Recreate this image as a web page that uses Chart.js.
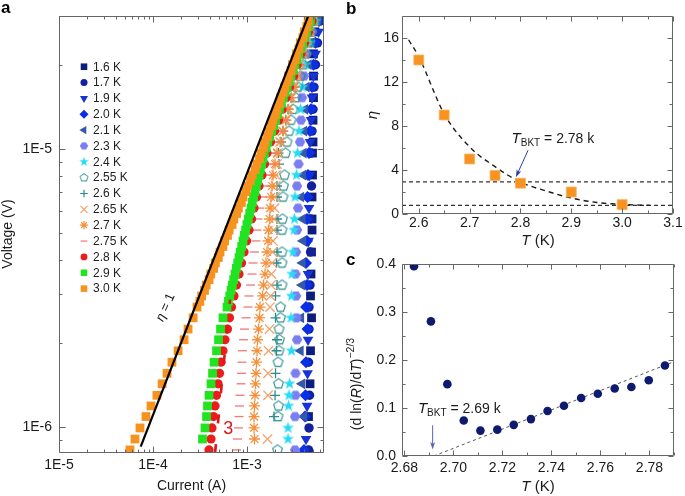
<!DOCTYPE html>
<html>
<head>
<meta charset="utf-8">
<script src="https://cdn.jsdelivr.net/npm/chart.js@4.4.1/dist/chart.umd.min.js"></script>
<style>
  html, body { margin: 0; padding: 0; background: #fff; }
  #wrap { position: relative; width: 685px; height: 496px; overflow: hidden; }
  canvas { position: absolute; }
</style>
</head>
<body>
<div id="wrap">
  <canvas id="chartA" width="340" height="496" style="left:0;top:0"></canvas>
  <canvas id="chartB" width="345" height="250" style="left:340px;top:0"></canvas>
  <canvas id="chartC" width="345" height="246" style="left:340px;top:250px"></canvas>
</div>
<script>
// ---------- panel a : I-V curves (log-log) ----------
const tempLabels = ['1.6 K', '1.7 K', '1.9 K', '2.0 K', '2.1 K', '2.3 K', '2.4 K', '2.55 K',
  '2.6 K', '2.65 K', '2.7 K', '2.75 K', '2.8 K', '2.9 K', '3.0 K'];

// voltage levels (V) shared by every curve, null current = no point at that level
const voltLevels = [8.27e-7, 9.05e-7, 9.92e-7, 1.09e-6, 1.19e-6, 1.30e-6, 1.43e-6, 1.56e-6, 1.71e-6, 1.88e-6,
  2.06e-6, 2.25e-6, 2.47e-6, 2.70e-6, 2.96e-6, 3.24e-6, 3.55e-6, 3.89e-6, 4.26e-6, 4.67e-6,
  5.11e-6, 5.60e-6, 6.13e-6, 6.72e-6, 7.36e-6, 8.06e-6, 8.83e-6, 9.67e-6, 1.06e-5, 1.16e-5,
  1.27e-5, 1.39e-5, 1.53e-5, 1.67e-5, 1.83e-5, 2.01e-5, 2.20e-5, 2.41e-5, 2.64e-5, 2.89e-5];
// extra levels where the 2.9 K and 3.0 K curves are densely sampled
const voltDense = [2.83e-6, 3.10e-6, 3.39e-6, 3.72e-6, 4.07e-6, 4.46e-6, 4.89e-6, 5.35e-6, 5.86e-6, 6.42e-6,
  7.03e-6, 7.70e-6, 8.44e-6, 9.24e-6, 1.012e-5, 1.109e-5, 1.214e-5, 1.329e-5, 1.455e-5, 1.60e-5,
  1.749e-5, 1.916e-5, 2.098e-5, 2.298e-5, 2.517e-5, 2.757e-5];

// currents (A)
const cur16 = [null, null, null, 4.511e-3, null, null, 4.680e-3, null, null, 4.737e-3, null, null, 4.855e-3, null, 4.737e-3, null, 4.796e-3, null, 4.855e-3, null,
  4.915e-3, 4.915e-3, null, 4.915e-3, null, 4.975e-3, null, 4.975e-3, 5.036e-3, null, 5.036e-3, null, 5.098e-3, null, 5.098e-3, null, 5.098e-3, 5.161e-3, 5.289e-3, 5.555e-3];
const cur17 = [4.511e-3, null, 4.566e-3, null, null, 4.623e-3, null, null, 4.511e-3, null, null, 4.566e-3, null, 4.566e-3, null, 4.680e-3, null, null, 4.737e-3, null,
  null, 4.737e-3, null, null, 4.855e-3, null, null, 4.796e-3, null, 4.915e-3, null, 5.036e-3, null, 5.161e-3, null, 5.354e-3, null, 5.623e-3, null, 6.052e-3];
const cur19 = [null, 4.243e-3, null, null, 4.348e-3, null, null, 4.402e-3, null, null, 4.456e-3, null, null, 4.456e-3, null, null, 4.456e-3, null, null, 4.511e-3,
  null, null, 4.566e-3, null, null, 4.623e-3, null, null, 4.680e-3, null, 4.796e-3, null, 4.915e-3, null, 5.098e-3, null, 5.354e-3, null, 5.762e-3, null];
const cur20 = [4.040e-3, null, null, 4.140e-3, null, 4.191e-3, null, null, 4.243e-3, null, null, 4.402e-3, null, 4.243e-3, null, 4.348e-3, null, 4.243e-3, null, 4.348e-3,
  null, 4.348e-3, null, 4.402e-3, null, 4.456e-3, null, 4.566e-3, null, 4.680e-3, null, 4.796e-3, null, 4.915e-3, null, 5.098e-3, null, 5.354e-3, null, 5.833e-3];
const cur21 = [null, null, null, 4.040e-3, null, null, 3.847e-3, null, null, 3.708e-3, null, null, 3.754e-3, null, null, 3.847e-3, null, 3.894e-3, null, 3.942e-3,
  null, 3.894e-3, null, 3.754e-3, null, 3.942e-3, null, 3.991e-3, null, 4.040e-3, null, 4.140e-3, null, 4.295e-3, null, 4.511e-3, null, 4.915e-3, null, 5.692e-3];
const cur23 = [3.241e-3, null, null, 3.241e-3, null, 3.281e-3, null, 3.281e-3, null, null, 3.404e-3, null, 3.362e-3, null, 3.321e-3, null, 3.281e-3, null, 3.321e-3, null,
  3.404e-3, null, 3.488e-3, null, 3.404e-3, null, 3.531e-3, null, 3.663e-3, null, 3.754e-3, null, 3.847e-3, null, 4.040e-3, null, 4.295e-3, null, 4.915e-3, null];
const cur24 = [null, 2.730e-3, 2.730e-3, null, 2.764e-3, 2.798e-3, 2.833e-3, null, null, 2.974e-3, null, null, 2.938e-3, null, 2.974e-3, null, 3.011e-3, null, 3.086e-3, null,
  3.162e-3, 3.201e-3, null, 3.241e-3, null, 3.362e-3, null, 3.446e-3, null, 3.575e-3, null, 3.708e-3, null, 3.894e-3, null, 4.191e-3, null, 4.680e-3, null, 5.420e-3];
const cur255 = [2.111e-3, null, null, 2.137e-3, 2.163e-3, null, 2.163e-3, null, 2.137e-3, 2.190e-3, 2.217e-3, 2.190e-3, 2.272e-3, 2.272e-3, null, 2.357e-3, null, 2.357e-3, 2.357e-3, null,
  2.357e-3, 2.386e-3, null, 2.415e-3, 2.445e-3, 2.506e-3, null, 2.568e-3, 2.664e-3, 2.798e-3, 2.938e-3, 3.086e-3, 3.281e-3, 3.488e-3, 3.708e-3, 3.942e-3, 4.191e-3, 4.511e-3, 4.855e-3, 5.289e-3];
const cur26 = [null, null, null, 1.938e-3, null, 1.986e-3, null, 2.010e-3, null, 2.060e-3, 2.085e-3, null, 2.010e-3, null, 2.010e-3, 2.085e-3, null, 2.060e-3, 2.085e-3, null,
  2.085e-3, 2.085e-3, null, 2.085e-3, 2.085e-3, null, 2.190e-3, 2.163e-3, 2.300e-3, 2.415e-3, 2.568e-3, 2.730e-3, 2.938e-3, 3.162e-3, 3.404e-3, 3.663e-3, 3.942e-3, 4.295e-3, 4.680e-3, 5.161e-3];
const cur265 = [null, 1.653e-3, null, null, null, 1.673e-3, null, 1.673e-3, null, 1.693e-3, null, 1.735e-3, null, 1.757e-3, 1.778e-3, 1.800e-3, 1.822e-3, 1.845e-3, 1.867e-3, 1.891e-3,
  1.914e-3, 1.938e-3, 1.962e-3, 1.986e-3, 2.010e-3, 2.035e-3, 2.085e-3, 2.137e-3, 2.245e-3, 2.386e-3, 2.537e-3, 2.697e-3, 2.903e-3, 3.125e-3, 3.362e-3, 3.619e-3, 3.894e-3, 4.243e-3, 4.623e-3, 5.036e-3];
const cur27 = [null, 1.202e-3, 1.187e-3, 1.187e-3, 1.202e-3, 1.216e-3, 1.231e-3, 1.246e-3, 1.262e-3, 1.277e-3, 1.293e-3, 1.325e-3, 1.358e-3, 1.375e-3, 1.462e-3, 1.498e-3, 1.554e-3, 1.592e-3, 1.632e-3, 1.672e-3,
  1.693e-3, 1.735e-3, 1.757e-3, 1.800e-3, 1.845e-3, 1.891e-3, 1.986e-3, 2.085e-3, 2.245e-3, 2.415e-3, 2.600e-3, 2.764e-3, 2.974e-3, 3.201e-3, 3.404e-3, 3.663e-3, 3.942e-3, 4.243e-3, 4.623e-3, 5.038e-3];
const cur275 = [7.73e-4, 7.92e-4, 8.12e-4, 8.22e-4, 8.32e-4, 8.42e-4, 8.63e-4, 8.74e-4, 8.85e-4, 8.96e-4, 9.18e-4, 9.41e-4, 9.76e-4, 1.025e-3, 1.050e-3, 1.090e-3, 1.130e-3, 1.158e-3, 1.202e-3, 1.246e-3,
  1.277e-3, 1.309e-3, 1.358e-3, 1.462e-3, 1.573e-3, 1.693e-3, 1.822e-3, 1.962e-3, 2.137e-3, 2.300e-3, 2.475e-3, 2.664e-3, 2.867e-3, 3.125e-3, 3.363e-3, 3.618e-3, 3.894e-3, 4.192e-3, 4.566e-3, 4.916e-3];
const cur28 = [3.94e-4, 4.14e-4, 4.24e-4, 4.40e-4, 4.57e-4, 4.74e-4, 4.92e-4, 5.10e-4, 5.29e-4, 5.55e-4, 5.83e-4, 6.20e-4, 6.51e-4, 6.84e-4, 7.27e-4, 7.73e-4, 8.22e-4, 8.74e-4, 9.29e-4, 9.88e-4,
  1.050e-3, 1.117e-3, 1.187e-3, 1.262e-3, 1.342e-3, 1.444e-3, 1.535e-3, 1.632e-3, 1.778e-3, 1.962e-3, 2.163e-3, 2.357e-3, 2.600e-3, 2.833e-3, 3.125e-3, 3.404e-3, 3.754e-3, 4.090e-3, 4.510e-3, 4.916e-3];
const cur29 = [null, 3.36e-4, 3.57e-4, 3.71e-4, 3.80e-4, 3.94e-4, 4.14e-4, 4.30e-4, 4.46e-4, 4.74e-4, 4.98e-4, 5.23e-4, 5.55e-4, 6.13e-4, 6.55e-4, 6.98e-4, 7.45e-4, 7.96e-4, 8.49e-4, 9.07e-4,
  9.66e-4, 1.032e-3, 1.103e-3, 1.175e-3, 1.256e-3, 1.342e-3, 1.430e-3, 1.528e-3, 1.665e-3, 1.832e-3, 2.010e-3, 2.212e-3, 2.434e-3, 2.671e-3, 2.938e-3, 3.233e-3, 3.548e-3, 3.904e-3, 4.295e-3, 4.714e-3];
const cur30 = [5.69e-5, 6.43e-5, 7.27e-5, 8.42e-5, 9.52e-5, 1.10e-4, 1.25e-4, 1.41e-4, 1.59e-4, 1.85e-4, 2.14e-4, 2.36e-4, 2.67e-4, 2.94e-4, 3.29e-4, 3.68e-4, 4.12e-4, 4.61e-4, 5.16e-4, 5.78e-4,
  6.46e-4, 7.24e-4, 8.10e-4, 9.07e-4, 1.015e-3, 1.136e-3, 1.272e-3, 1.409e-3, 1.550e-3, 1.710e-3, 1.882e-3, 2.070e-3, 2.278e-3, 2.512e-3, 2.764e-3, 3.041e-3, 3.354e-3, 3.690e-3, 4.06e-3, 4.47e-3];
// the dense upper part of 2.9 K and 3.0 K (at voltDense)
const cur29Dense = [6.34e-4, 6.76e-4, 7.21e-4, 7.70e-4, 8.22e-4, 8.78e-4, 9.36e-4, 9.98e-4, 1.067e-3, 1.138e-3,
  1.215e-3, 1.298e-3, 1.385e-3, 1.478e-3, 1.595e-3, 1.746e-3, 1.919e-3, 2.109e-3, 2.320e-3, 2.550e-3,
  2.801e-3, 3.082e-3, 3.387e-3, 3.722e-3, 4.095e-3, 4.50e-3];
const cur30Dense = [3.15e-4, 3.53e-4, 3.95e-4, 4.42e-4, 4.95e-4, 5.54e-4, 6.20e-4, 6.94e-4, 7.77e-4, 8.70e-4,
  9.73e-4, 1.090e-3, 1.220e-3, 1.359e-3, 1.500e-3, 1.652e-3, 1.821e-3, 2.003e-3, 2.204e-3, 2.427e-3,
  2.674e-3, 2.942e-3, 3.241e-3, 3.570e-3, 3.928e-3, 4.32e-3];

// guide lines eta = 1 and eta = 3
const etaOneI = [7.4e-5, 4.46e-3];
const etaOneV = [8.5e-7, 3.0e-5];
const etaThreeI = [4.57e-4, 6.59e-4];
const etaThreeV = [8.05e-7, 2.87e-6];

// axis ticks
const aTicksX = [1e-5, 2e-5, 3e-5, 4e-5, 5e-5, 6e-5, 7e-5, 8e-5, 9e-5, 1e-4, 2e-4, 3e-4, 4e-4, 5e-4, 6e-4, 7e-4, 8e-4, 9e-4,
  1e-3, 2e-3, 3e-3, 4e-3, 5e-3, 6e-3];
const aMajorX = [1e-5, 1e-4, 1e-3];
const aTicksY = [9e-7, 1e-6, 2e-6, 3e-6, 4e-6, 5e-6, 6e-6, 7e-6, 8e-6, 9e-6, 1e-5, 2e-5, 3e-5];
const aMajorY = [1e-6, 1e-5];

// ---------- panel b : eta vs T ----------
const bTemp = [2.6, 2.65, 2.7, 2.75, 2.8, 2.9, 3.0];
const bEta = [14.0, 9.0, 5.0, 3.5, 2.8, 2.0, 0.85];
const bFitTemp = [2.58, 2.6, 2.65, 2.7, 2.75, 2.8, 2.85, 2.9, 2.95, 3.0, 3.055];
const bFitEta = [15.84, 14.3, 9.1, 6.1, 4.3, 2.9, 2.1, 1.45, 1.05, 0.87, 0.78];
const bLevelTemp = [2.567, 3.1];
const bLevelHigh = [2.92, 2.92];
const bLevelLow = [0.78, 0.78];
const bTicksX = [2.6, 2.65, 2.7, 2.75, 2.8, 2.85, 2.9, 2.95, 3.0, 3.05, 3.1];
const bMajorX = [2.6, 2.7, 2.8, 2.9, 3.0, 3.1];
const bTicksY = [0, 2, 4, 6, 8, 10, 12, 14, 16, 18];
const bMajorY = [0, 4, 8, 12, 16];

// ---------- panel c : (d lnR/dT)^-2/3 vs T ----------
const cTemp = [2.6839, 2.6908, 2.6975, 2.7042, 2.7110, 2.7179, 2.7246, 2.7316, 2.7384, 2.7451, 2.7521, 2.7589, 2.7658, 2.7726, 2.7797, 2.7863];
const cVal = [0.396, 0.281, 0.150, 0.074, 0.053, 0.055, 0.065, 0.077, 0.094, 0.105, 0.121, 0.130, 0.141, 0.144, 0.158, 0.189];
const cFitTemp = [2.692, 2.790];
const cFitVal = [0, 0.197];
const cTicksX = [2.68, 2.69, 2.70, 2.71, 2.72, 2.73, 2.74, 2.75, 2.76, 2.77, 2.78, 2.79];
const cMajorX = [2.68, 2.70, 2.72, 2.74, 2.76, 2.78];
const cTicksY = [0, 0.05, 0.1, 0.15, 0.2, 0.25, 0.3, 0.35, 0.4];
const cMajorY = [0, 0.1, 0.2, 0.3, 0.4];

// ---------- helpers ----------
const FAMILY = '"Liberation Sans", Arial, sans-serif';
const font = (size, style) => (style ? style + ' ' : '') + size + 'px ' + FAMILY;
Chart.defaults.font.family = FAMILY;
Chart.defaults.font.size = 14;
Chart.defaults.color = '#1a1a1a';

function makeMarker(size, color, draw) {
  const c = document.createElement('canvas');
  c.width = size; c.height = size;
  const g = c.getContext('2d');
  g.translate(size / 2, size / 2);
  g.fillStyle = color; g.strokeStyle = color; g.lineWidth = 1.1;
  draw(g);
  return c;
}
function polyPath(g, n, r, r2, start) {
  const k = r2 ? n * 2 : n;
  g.beginPath();
  for (let i = 0; i < k; i++) {
    const rr = (r2 && i % 2) ? r2 : r;
    const a = start + i * Math.PI * 2 / k;
    g.lineTo(rr * Math.cos(a), rr * Math.sin(a));
  }
  g.closePath();
}
const starImg = makeMarker(13, '#27dbf5', g => { polyPath(g, 5, 6.2, 2.5, -Math.PI / 2); g.fill(); });
const pentImg = makeMarker(13, '#2a8c8c', g => { polyPath(g, 5, 5.1, 0, -Math.PI / 2); g.stroke(); });
const hexImg = makeMarker(12, '#7b7ef0', g => { polyPath(g, 6, 5.2, 0, 0); g.fill(); });

const markerA = [
  { shape: 'rect', color: '#0c1d7e', r: 6.2 },
  { shape: 'circle', color: '#13219c', r: 4.7 },
  { shape: 'triangle', rot: 180, color: '#1733d6', r: 6.2 },
  { shape: 'rectRot', color: '#0b2fe4', r: 6 },
  { shape: 'triangle', rot: -90, color: '#3658a8', r: 6.2 },
  { shape: hexImg, color: '#7b7ef0' },
  { shape: starImg, color: '#27dbf5' },
  { shape: pentImg, color: '#2a8c8c' },
  { shape: 'cross', color: '#2a8c8c', r: 5, line: true },
  { shape: 'crossRot', color: '#f4a068', r: 6.6, line: true },
  { shape: 'star', color: '#f5913c', r: 5.5, line: true },
  { shape: 'line', color: '#f07878', r: 4.5, line: true },
  { shape: 'circle', color: '#ec1c1c', r: 4.6 },
  { shape: 'rect', color: '#22e322', r: 6.2 },
  { shape: 'rect', color: '#f7921e', r: 6.2 }
];

function isMajor(v, majors) {
  return majors.some(m => Math.abs(m - v) <= Math.abs(m) * 1e-6 + 1e-12);
}
function axis(type, min, max, list, majors, fmt, pad, size, horizontal) {
  return {
    type: type, min: min, max: max, bounds: 'data',
    grid: { display: false, drawTicks: false },
    border: { display: false },
    afterBuildTicks: s => { s.ticks = list.map(v => ({ value: v, major: isMajor(v, majors) })); },
    afterFit: s => { if (horizontal) s.height = size; else s.width = size; },
    ticks: {
      autoSkip: false, maxRotation: 0, padding: pad, font: { size: 14 },
      callback: (v, i, ts) => (ts[i] && ts[i].major) ? fmt(v) : ''
    }
  };
}

function framePlugin(majorLen, minorLen) {
  return {
    id: 'frame',
    afterDraw(chart) {
      const { ctx, chartArea: a } = chart;
      const sx = chart.scales.x, sy = chart.scales.y;
      const L = Math.round(a.left) + 0.5, R = Math.round(a.right) - 0.5;
      const T = Math.round(a.top) + 0.5, B = Math.round(a.bottom) - 0.5;
      ctx.save();
      ctx.strokeStyle = '#666';
      ctx.lineWidth = 1;
      ctx.beginPath();
      ctx.rect(L, T, R - L, B - T);
      sx.ticks.forEach(t => {
        const p = Math.round(sx.getPixelForValue(t.value)) + 0.5;
        const len = t.major ? majorLen : minorLen;
        ctx.moveTo(p, B); ctx.lineTo(p, B - len);
        ctx.moveTo(p, T); ctx.lineTo(p, T + len);
      });
      sy.ticks.forEach(t => {
        const p = Math.round(sy.getPixelForValue(t.value)) + 0.5;
        const len = t.major ? majorLen : minorLen;
        ctx.moveTo(L, p); ctx.lineTo(L + len, p);
        ctx.moveTo(R, p); ctx.lineTo(R - len, p);
      });
      ctx.stroke();
      ctx.restore();
    }
  };
}

// draw a run of differently styled text pieces
function drawRuns(ctx, runs, x, y, rot, align, base) {
  ctx.save();
  ctx.translate(x, y);
  ctx.rotate(rot || 0);
  ctx.textAlign = 'left';
  ctx.textBaseline = 'alphabetic';
  let total = 0;
  runs.forEach(r => { ctx.font = r.f; r.w = ctx.measureText(r.t).width; total += r.w; });
  let cx = align === 'center' ? -total / 2 : 0;
  runs.forEach(r => { ctx.font = r.f; ctx.fillText(r.t, cx, (base || 0) + (r.dy || 0)); cx += r.w; });
  ctx.restore();
}
function arrow(ctx, x1, y1, x2, y2, color, head) {
  const a = Math.atan2(y2 - y1, x2 - x1);
  ctx.save();
  ctx.strokeStyle = color; ctx.fillStyle = color; ctx.lineWidth = 1;
  ctx.beginPath(); ctx.moveTo(x1, y1);
  ctx.lineTo(x2 - head * 0.7 * Math.cos(a), y2 - head * 0.7 * Math.sin(a)); ctx.stroke();
  ctx.beginPath(); ctx.moveTo(x2, y2);
  ctx.lineTo(x2 - head * Math.cos(a - 0.32), y2 - head * Math.sin(a - 0.32));
  ctx.lineTo(x2 - head * 0.7 * Math.cos(a), y2 - head * 0.7 * Math.sin(a));
  ctx.lineTo(x2 - head * Math.cos(a + 0.32), y2 - head * Math.sin(a + 0.32));
  ctx.closePath(); ctx.fill();
  ctx.restore();
}

const baseOptions = () => ({
  responsive: false, animation: false, events: [], devicePixelRatio: 1,
  plugins: { legend: { display: false }, tooltip: { enabled: false } }
});

// ---------- chart a ----------
const curA = [cur16, cur17, cur19, cur20, cur21, cur23, cur24, cur255, cur26, cur265, cur27, cur275, cur28, cur29, cur30];
const denseA = { 13: cur29Dense, 14: cur30Dense };
const aSeries = tempLabels.map((lab, i) => {
  const m = markerA[i];
  let pts = voltLevels.map((v, k) => ({ x: curA[i][k], y: v })).filter(p => p.x !== null);
  if (denseA[i]) pts = pts.concat(voltDense.map((v, k) => ({ x: denseA[i][k], y: v })));
  return {
    label: lab,
    data: pts,
    pointStyle: m.shape,
    pointRadius: m.r || 5,
    pointRotation: m.rot || 0,
    pointBackgroundColor: m.color,
    pointBorderColor: m.color,
    pointBorderWidth: m.line ? 1.3 : 0,
    showLine: false,
    order: 30 - i,
    clip: 0
  };
});
const etaOneLine = {
  label: 'eta = 1', data: etaOneI.map((v, k) => ({ x: v, y: etaOneV[k] })),
  showLine: true, pointRadius: 0, borderColor: '#000', borderWidth: 2.2, order: 1, clip: 0
};
const etaThreeLine = {
  label: 'eta = 3', data: etaThreeI.map((v, k) => ({ x: v, y: etaThreeV[k] })),
  showLine: true, pointRadius: 0, borderColor: '#e01515', borderWidth: 2.6, borderDash: [9, 21], order: 2, clip: 0
};

const annotA = {
  id: 'annotA',
  afterDraw(chart) {
    const { ctx } = chart;
    const sx = chart.scales.x, sy = chart.scales.y;
    // legend
    markerA.forEach((m, i) => {
      const yy = 66.7 + 15.85 * i;
      ctx.save();
      ctx.fillStyle = m.color; ctx.strokeStyle = m.color; ctx.lineWidth = 1.2;
      if (typeof m.shape !== 'string') {
        const w = m.shape.width * 0.8, h = m.shape.height * 0.8;
        ctx.drawImage(m.shape, 84 - w / 2, yy - h / 2, w, h);
      } else if (Chart.helpers && Chart.helpers.drawPoint) {
        Chart.helpers.drawPoint(ctx, { pointStyle: m.shape, radius: (m.r || 5) * 0.75, rotation: m.rot || 0, borderWidth: m.line ? 1.2 : 0 }, 84, yy);
      }
      ctx.restore();
      ctx.fillStyle = '#222';
      ctx.font = font(12);
      ctx.textAlign = 'left';
      ctx.textBaseline = 'middle';
      ctx.fillText(tempLabels[i], 93, yy + 0.5);
    });
    // eta = 1 label along the black line
    ctx.fillStyle = '#111';
    drawRuns(ctx, [{ t: 'η', f: font(13, 'italic') }, { t: ' = 1', f: font(13) }],
      sx.getPixelForValue(1.34e-4), sy.getPixelForValue(2.70e-6), -66 * Math.PI / 180, 'center', 4.5);
    // '3' label on the eta = 3 line
    ctx.fillStyle = '#e01515';
    ctx.font = font(18);
    ctx.textAlign = 'center'; ctx.textBaseline = 'middle';
    ctx.fillText('3', sx.getPixelForValue(6.3e-4), sy.getPixelForValue(9.8e-7));
    // titles
    ctx.fillStyle = '#1a1a1a';
    drawRuns(ctx, [{ t: 'Voltage (V)', f: font(14) }], 7, 234, -Math.PI / 2, 'center', 5);
    drawRuns(ctx, [{ t: 'Current (A)', f: font(14) }], 191.5, 485, 0, 'center', 5);
    ctx.fillStyle = '#000';
    drawRuns(ctx, [{ t: 'a', f: font(17, 'bold') }], 1, 0, 0, 'left', 13);
  }
};

const optA = baseOptions();
optA.layout = { padding: { left: 0, right: 16, top: 16, bottom: 0 } };
optA.scales = {
  x: axis('logarithmic', 1e-5, 6.59e-3, aTicksX, aMajorX, v => '1E' + Math.round(Math.log10(v)), 4, 43, true),
  y: axis('logarithmic', 8.06e-7, 3.01e-5, aTicksY, aMajorY, v => '1E' + Math.round(Math.log10(v)), 7, 59, false)
};
new Chart(document.getElementById('chartA'), {
  type: 'scatter',
  data: { datasets: aSeries.concat([etaOneLine, etaThreeLine]) },
  options: optA,
  plugins: [framePlugin(6, 3), annotA]
});

// ---------- chart b ----------
const annotB = {
  id: 'annotB',
  afterDraw(chart) {
    const { ctx } = chart;
    const sx = chart.scales.x, sy = chart.scales.y;
    ctx.fillStyle = '#1a1a1a';
    drawRuns(ctx, [
      { t: 'T', f: font(15, 'italic') },
      { t: 'BKT', f: font(10), dy: 3 },
      { t: ' = 2.78 k', f: font(14) }
    ], sx.getPixelForValue(2.7825), sy.getPixelForValue(6.45), 0, 'left', 0);
    arrow(ctx, sx.getPixelForValue(2.815), sy.getPixelForValue(5.8),
      sx.getPixelForValue(2.791), sy.getPixelForValue(3.35), '#2d3ea8', 8);
    drawRuns(ctx, [{ t: 'η', f: font(15, 'italic') }], 33, 115, -Math.PI / 2, 'center', 4);
    drawRuns(ctx, [{ t: 'T', f: font(15, 'italic') }, { t: ' (K)', f: font(15) }], 198, 240, 0, 'center', 5);
    ctx.fillStyle = '#000';
    drawRuns(ctx, [{ t: 'b', f: font(17, 'bold') }], 6, 0, 0, 'left', 14);
  }
};
const optB = baseOptions();
optB.layout = { padding: { left: 0, right: 12, top: 16, bottom: 0 } };
optB.scales = {
  x: axis('linear', 2.567, 3.1, bTicksX, bMajorX, v => v.toFixed(1), 1, 36, true),
  y: axis('linear', 0, 18, bTicksY, bMajorY, v => String(Math.round(v)), 3, 62, false)
};
new Chart(document.getElementById('chartB'), {
  type: 'scatter',
  data: {
    datasets: [
      {
        label: 'eta', data: bTemp.map((t, k) => ({ x: t, y: bEta[k] })),
        pointStyle: 'rect', pointRadius: 7, pointBackgroundColor: '#f7931e', pointBorderColor: '#f9b060',
        pointBorderWidth: 0.8, order: 0
      },
      {
        label: 'fit', data: bFitTemp.map((t, k) => ({ x: t, y: bFitEta[k] })),
        showLine: true, pointRadius: 0, borderColor: '#1a1a1a', borderWidth: 1.4, borderDash: [5, 4],
        cubicInterpolationMode: 'monotone', order: 1
      },
      {
        label: 'eta 3', data: bLevelTemp.map((t, k) => ({ x: t, y: bLevelHigh[k] })),
        showLine: true, pointRadius: 0, borderColor: '#333', borderWidth: 1.1, borderDash: [4, 3], order: 2
      },
      {
        label: 'eta 1', data: bLevelTemp.map((t, k) => ({ x: t, y: bLevelLow[k] })),
        showLine: true, pointRadius: 0, borderColor: '#333', borderWidth: 1.1, borderDash: [4, 3], order: 2
      }
    ]
  },
  options: optB,
  plugins: [framePlugin(5, 3), annotB]
});

// ---------- chart c ----------
const annotC = {
  id: 'annotC',
  afterDraw(chart) {
    const { ctx } = chart;
    const sx = chart.scales.x, sy = chart.scales.y;
    ctx.fillStyle = '#1a1a1a';
    drawRuns(ctx, [
      { t: 'T', f: font(15, 'italic') },
      { t: 'BKT', f: font(10), dy: 3 },
      { t: ' = 2.69 k', f: font(14) }
    ], sx.getPixelForValue(2.6855), sy.getPixelForValue(0.089), 0, 'left', 0);
    arrow(ctx, sx.getPixelForValue(2.6915), sy.getPixelForValue(0.064),
      sx.getPixelForValue(2.6915), sy.getPixelForValue(0.0135), '#5a64b4', 8);
    ctx.fillStyle = '#1a1a1a';
    drawRuns(ctx, [
      { t: '(d ln(', f: font(14) },
      { t: 'R', f: font(14, 'italic') },
      { t: ')/d', f: font(14) },
      { t: 'T', f: font(14, 'italic') },
      { t: ')', f: font(14) },
      { t: '−2/3', f: font(10.5), dy: -7 }
    ], 16, 134, -Math.PI / 2, 'center', 5);
    drawRuns(ctx, [{ t: 'T', f: font(15, 'italic') }, { t: ' (K)', f: font(15) }], 198, 236, 0, 'center', 5);
    ctx.fillStyle = '#000';
    drawRuns(ctx, [{ t: 'c', f: font(17, 'bold') }], 6, 0, 0, 'left', 15);
  }
};
const optC = baseOptions();
optC.layout = { padding: { left: 0, right: 11, top: 13, bottom: 0 } };
optC.scales = {
  x: axis('linear', 2.679, 2.790, cTicksX, cMajorX, v => v.toFixed(2), 4, 40, true),
  y: axis('linear', 0, 0.4, cTicksY, cMajorY, v => v.toFixed(1), 6, 62, false)
};
new Chart(document.getElementById('chartC'), {
  type: 'scatter',
  data: {
    datasets: [
      {
        label: 'data', data: cTemp.map((t, k) => ({ x: t, y: cVal[k] })),
        pointStyle: 'circle', pointRadius: 4.3, pointBackgroundColor: '#0d1a6e', pointBorderColor: '#0d1a6e',
        pointBorderWidth: 0, order: 0
      },
      {
        label: 'fit', data: cFitTemp.map((t, k) => ({ x: t, y: cFitVal[k] })),
        showLine: true, pointRadius: 0, borderColor: '#555', borderWidth: 1, borderDash: [3, 3], order: 1
      }
    ]
  },
  options: optC,
  plugins: [framePlugin(5, 3), annotC]
});
</script>
</body>
</html>
